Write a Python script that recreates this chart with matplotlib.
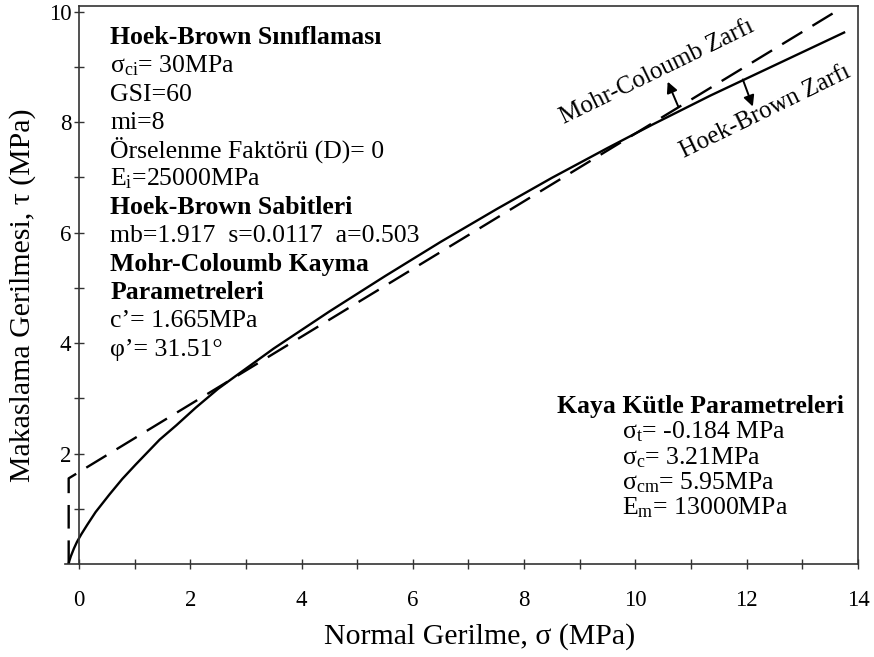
import matplotlib.pyplot as plt

plt.rcParams['font.family'] = 'Liberation Serif'
plt.rcParams['mathtext.fontset'] = 'custom'
plt.rcParams['mathtext.rm'] = 'Liberation Serif'
plt.rcParams['mathtext.it'] = 'Liberation Serif:italic'
plt.rcParams['mathtext.bf'] = 'Liberation Serif:bold'

# Hoek-Brown envelope
hb_sigma = [-0.184, -0.174, -0.145, -0.09, -0.035, 0.044, 0.15, 0.3, 0.55, 0.78,
            1.02, 1.45, 1.75, 2.1, 2.5, 2.8, 3.5, 4.5, 5.5, 6.5, 7.5, 8.5, 9.5,
            10.3, 11.35, 12.95, 13.75]
hb_tau = [0.0, 0.05, 0.14, 0.28, 0.40, 0.54, 0.71, 0.94, 1.26, 1.54,
          1.80, 2.25, 2.51, 2.83, 3.17, 3.39, 3.90, 4.57, 5.21, 5.83, 6.42, 6.99, 7.53,
          7.95, 8.48, 9.24, 9.62]

# Mohr-Coulomb envelope with tension cut-off
mc_sigma = [-0.184, -0.184, 13.7]
mc_tau = [0.0, 1.55, 10.06]

x_ticks = [0, 2, 4, 6, 8, 10, 12, 14]
y_ticks = [2, 4, 6, 8, 10]

left_lines = [
    ('Hoek-Brown Sınıflaması', True),
    (r'$\mathrm{σ_{ci}}$= 30MPa', False),
    ('GSI=60', False),
    ('mi=8', False),
    ('Örselenme Faktörü (D)= 0', False),
    (r'$\mathrm{E_{i}}$=25000MPa', False),
    ('Hoek-Brown Sabitleri', True),
    ('mb=1.917  s=0.0117  a=0.503', False),
    ('Mohr-Coloumb Kayma', True),
    ('Parametreleri', True),
    ('c’= 1.665MPa', False),
    ('φ’= 31.51°', False),
]

right_title = 'Kaya Kütle Parametreleri'
right_lines = [
    r'$\mathrm{σ_{t}}$= -0.184 MPa',
    r'$\mathrm{σ_{c}}$= 3.21MPa',
    r'$\mathrm{σ_{cm}}$= 5.95MPa',
    r'$\mathrm{E_{m}}$= 13000MPa',
]

fig = plt.figure(figsize=(8.74, 6.57), dpi=100)
ax = fig.add_axes([65 / 874, 1 - 564 / 657, 793 / 874, 558 / 657])

ax.plot(hb_sigma, hb_tau, color='k', lw=1.7)
ax.plot(mc_sigma, mc_tau, color='k', lw=1.7, dashes=(10, 5))

ax.set_xlim(-0.25, 14)
ax.set_ylim(0, 10.1)

ax.spines['left'].set_position(('data', 0))
ax.spines['top'].set_bounds(0, 14)
for s in ax.spines.values():
    s.set_color('#333333')
    s.set_linewidth(1.2)

ax.set_xticks(x_ticks)
ax.set_xticks(range(1, 14, 2), minor=True)
ax.set_yticks(y_ticks)
ax.set_yticks(range(1, 10, 2), minor=True)
ax.tick_params(which='both', direction='inout', length=7, width=1, color='#333333',
               labelsize=16.5)
ax.tick_params(axis='x', pad=15)
ax.tick_params(axis='y', pad=2)

fig.text(23 / 874, 1 - 295 / 657, 'Makaslama Gerilmesi, τ (MPa)', rotation=90,
         ha='center', va='center', fontsize=21.5)
fig.text(480 / 874, 1 - 637 / 657, 'Normal Gerilme, σ (MPa)',
         ha='center', va='center', fontsize=21.5)

# parameter blocks
y0 = 9.415
for i, (txt, bold) in enumerate(left_lines):
    ax.text(0.56, y0 - 0.513 * i, txt, fontsize=18.5, va='baseline', ha='left',
            fontweight='bold' if bold else 'normal')

ax.text(8.59, 2.725, right_title, fontsize=18.5, fontweight='bold', va='baseline')
for i, txt in enumerate(right_lines):
    ax.text(9.76, 2.27 - 0.46 * i, txt, fontsize=18.5, va='baseline')

# envelope labels
ax.text(10.39, 8.91, 'Mohr-Coloumb Zarfı', rotation=26, rotation_mode='anchor',
        ha='center', va='center', fontsize=18)
ax.text(12.33, 8.19, 'Hoek-Brown Zarfı', rotation=26, rotation_mode='anchor',
        ha='center', va='center', fontsize=18)
ax.annotate('', xy=(10.58, 8.73), xytext=(10.77, 8.28),
            arrowprops=dict(arrowstyle='-|>', color='k', lw=1.4, mutation_scale=16,
                            shrinkA=0, shrinkB=0))
ax.annotate('', xy=(12.11, 8.28), xytext=(11.93, 8.77),
            arrowprops=dict(arrowstyle='-|>', color='k', lw=1.4, mutation_scale=16,
                            shrinkA=0, shrinkB=0))

fig.savefig('out.png', dpi=100)
